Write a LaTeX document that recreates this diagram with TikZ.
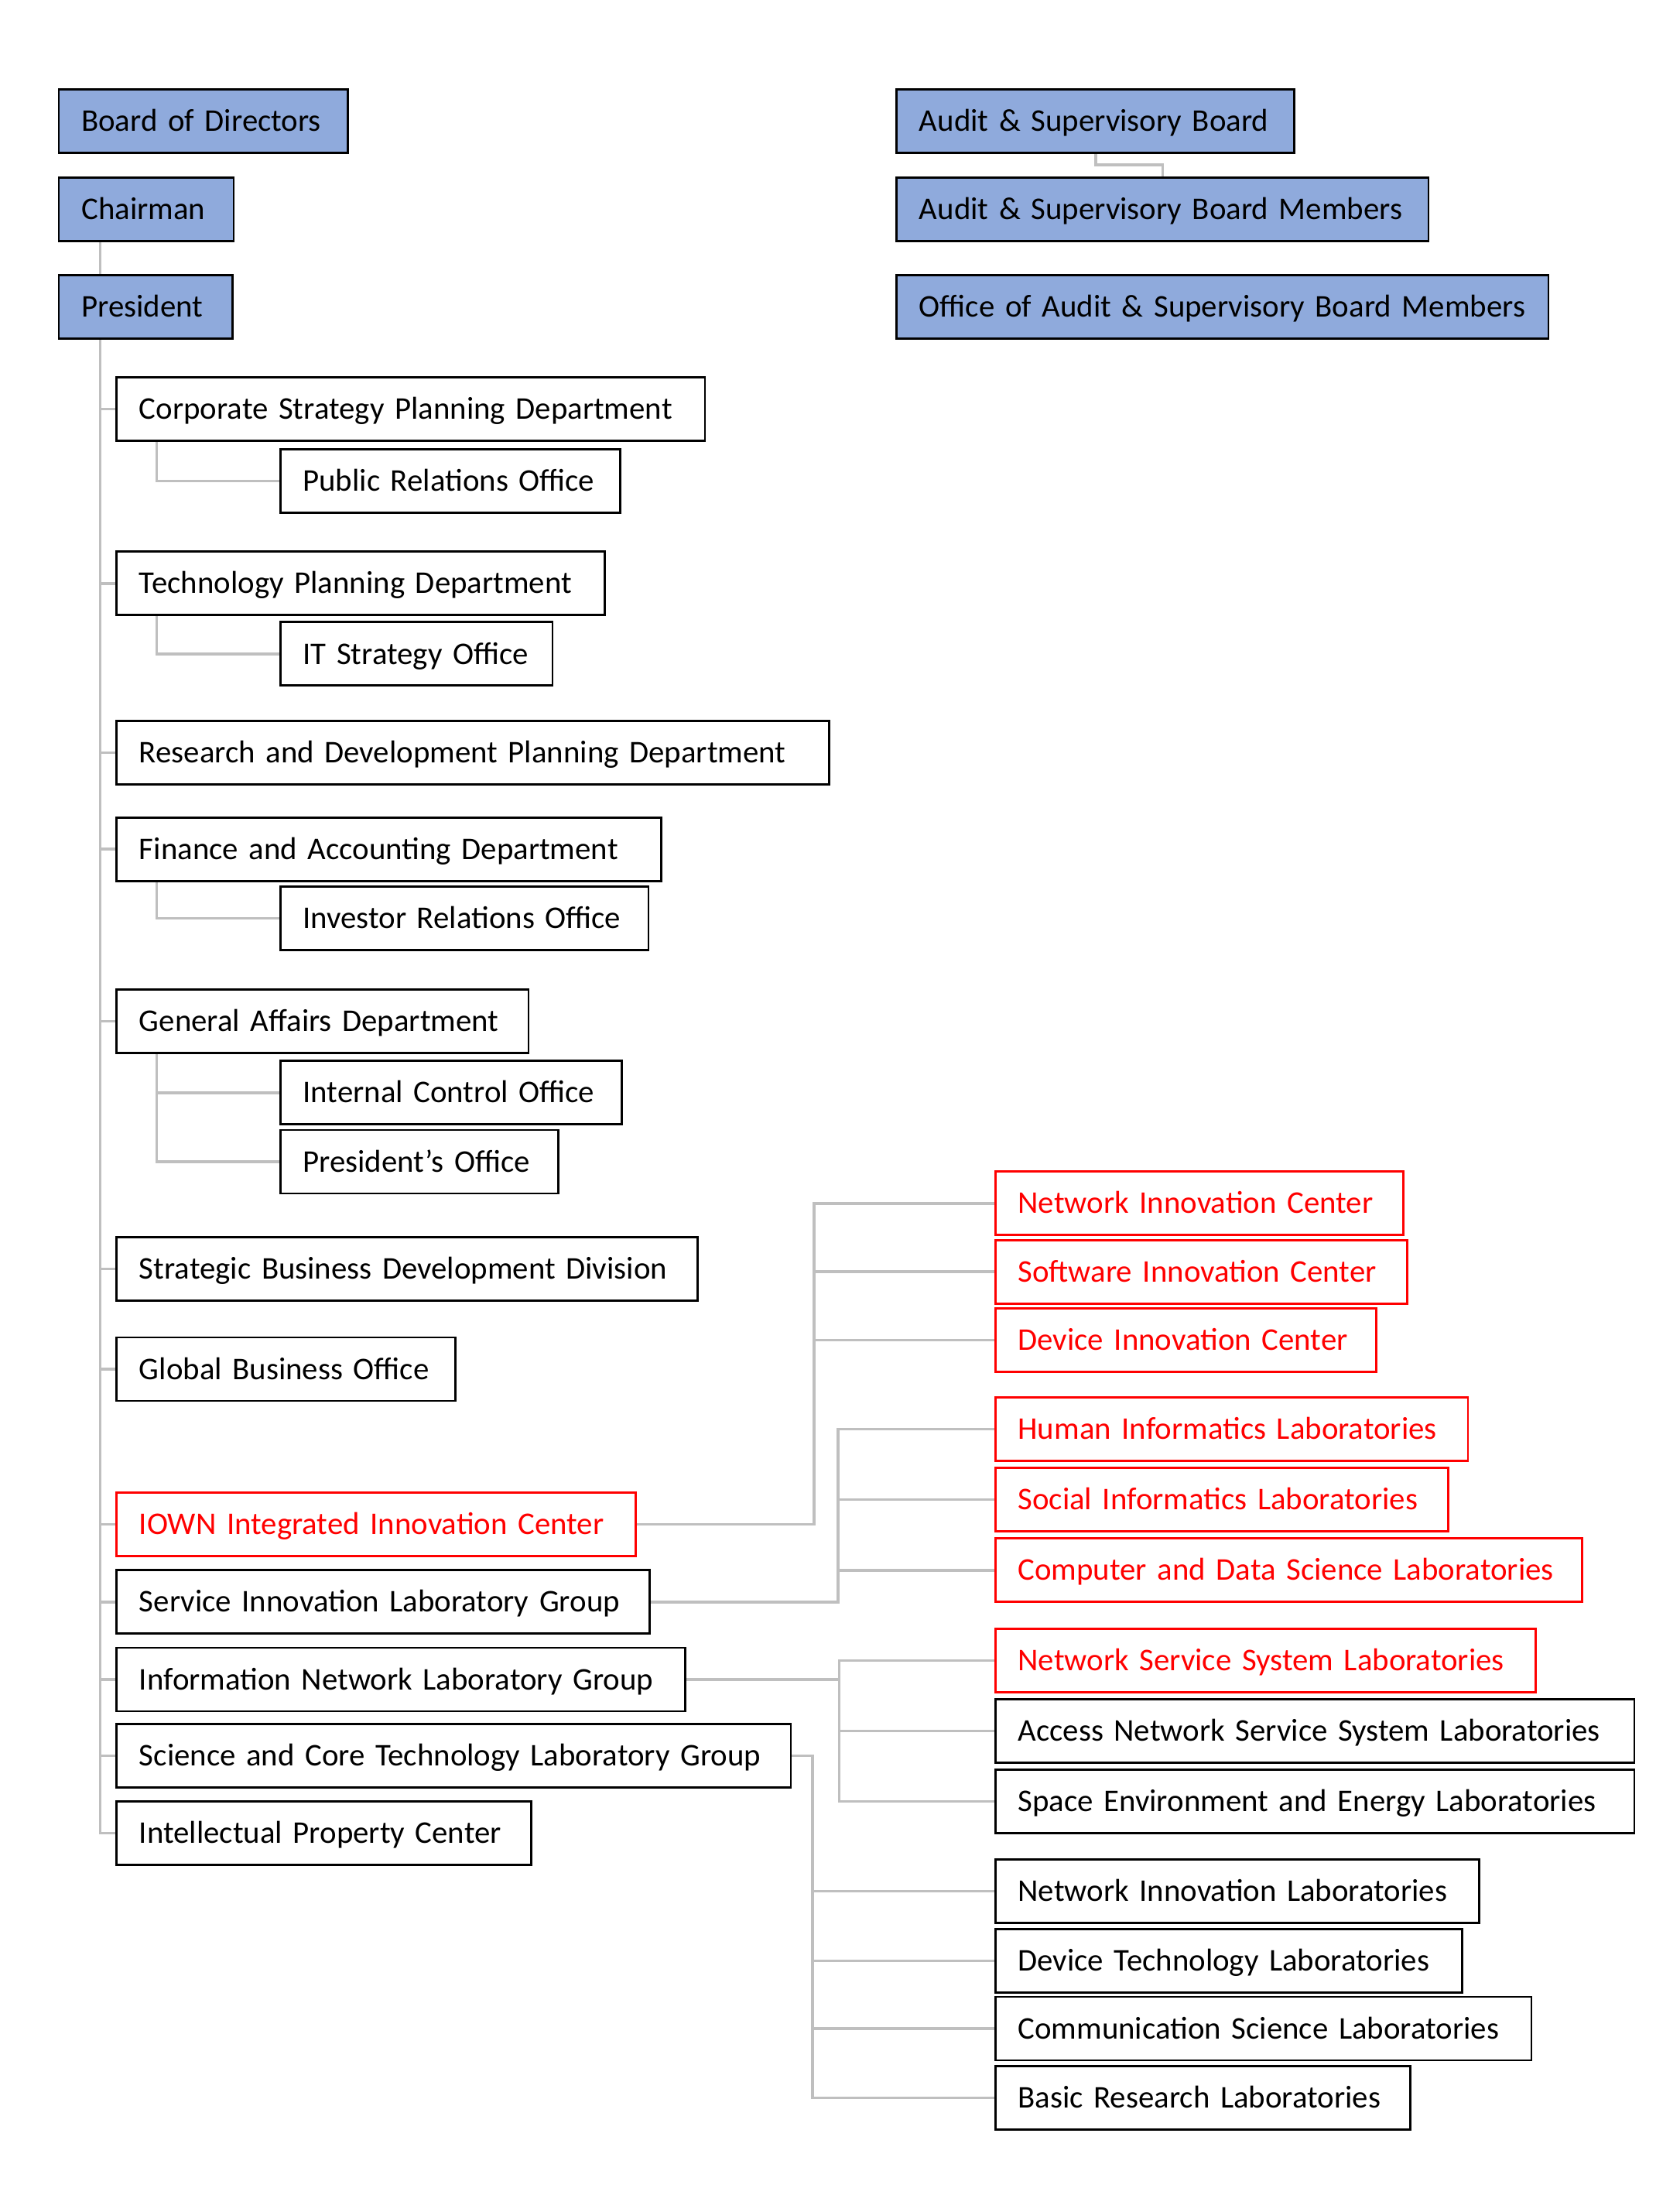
\documentclass[tikz,border=0pt]{standalone}
\usepackage{fontspec}
\setmainfont{Carlito}
\usetikzlibrary{backgrounds}
\definecolor{bfill}{RGB}{143,170,220}
\definecolor{lgray}{RGB}{191,191,191}
\definecolor{rd}{RGB}{255,0,0}
\begin{document}
\begin{tikzpicture}[x=1pt,y=-1pt,
  bx/.style={draw=black, line width=1.5pt, inner xsep=16pt, inner ysep=0pt,
    minimum height=45pt, text height=14.5pt, text depth=0pt, anchor=west,
    align=left, text width=#1pt, font=\fontsize{22.4pt}{27pt}\selectfont,
    execute at begin node={\hbox\bgroup}, execute at end node={\egroup}},
  topbox/.style={fill=bfill},
  hot/.style={draw=rd, text=rd},
  conn/.style={draw=lgray, line width=2pt}]
\useasboundingbox (0,0) rectangle (1191,1568);

% top left
\node[bx=173, topbox] (bod) at (41,86) {Board of Directors};
\node[bx=92, topbox] (chair) at (41,148.5) {Chairman};
\node[bx=91, topbox] (pres) at (41,217.5) {President};
% top right
\node[bx=250, topbox] (asb) at (635,86) {Audit \& Supervisory Board};
\node[bx=345, topbox] (asbm) at (635,148.5) {Audit \& Supervisory Board Members};
\node[bx=430, topbox] (oasbm) at (635,217.5) {Office of Audit \& Supervisory Board Members};

% departments
\node[bx=385] (cspd) at (82,290) {Corporate Strategy Planning Department};
\node[bx=209] (pro) at (198,341) {Public Relations Office};
\node[bx=314] (tpd) at (82,413.5) {Technology Planning Department};
\node[bx=161] (itso) at (198,463.5) {IT Strategy Office};
\node[bx=473] (rdpd) at (82,533.5) {Research and Development Planning Department};
\node[bx=354] (fad) at (82,602) {Finance and Accounting Department};
\node[bx=229] (iro) at (198,651) {Investor Relations Office};
\node[bx=260] (gad) at (82,724) {General Affairs Department};
\node[bx=210] (ico) at (198,774.5) {Internal Control Office};
\node[bx=165] (po) at (198,823.5) {President’s Office};
\node[bx=380] (sbdd) at (82,899.5) {Strategic Business Development Division};
\node[bx=208] (gbo) at (82,970.5) {Global Business Office};
\node[bx=336, hot] (iown) at (82,1080.5) {IOWN Integrated Innovation Center};
\node[bx=346] (silg) at (82,1135.5) {Service Innovation Laboratory Group};
\node[bx=371] (inlg) at (82,1190.5) {Information Network Laboratory Group};
\node[bx=446] (sctlg) at (82,1244.5) {Science and Core Technology Laboratory Group};
\node[bx=262] (ipc) at (82,1299.5) {Intellectual Property Center};

% right column
\node[bx=257, hot] (nic) at (705,853) {Network Innovation Center};
\node[bx=260, hot] (swic) at (705,901.5) {Software Innovation Center};
\node[bx=238, hot] (dic) at (705,950) {Device Innovation Center};
\node[bx=303, hot] (hil) at (705,1013) {Human Informatics Laboratories};
\node[bx=289, hot] (sil) at (705,1063) {Social Informatics Laboratories};
\node[bx=384, hot] (cdsl) at (705,1113) {Computer and Data Science Laboratories};
\node[bx=351, hot] (nssl) at (705,1177) {Network Service System Laboratories};
\node[bx=421] (ansl) at (705,1227) {Access Network Service System Laboratories};
\node[bx=421] (seel) at (705,1277) {Space Environment and Energy Laboratories};
\node[bx=311] (nil) at (705,1340.5) {Network Innovation Laboratories};
\node[bx=299] (dtl) at (705,1390) {Device Technology Laboratories};
\node[bx=348] (csl) at (705,1438) {Communication Science Laboratories};
\node[bx=262] (brl) at (705,1487) {Basic Research Laboratories};

\coordinate (tx) at (71,0);
\coordinate (sx) at (111,0);
\coordinate (ba) at (577,0);
\coordinate (bb) at (594,0);
\coordinate (bc) at (595,0);
\coordinate (bd) at (576,0);
\coordinate (am) at (0,117);

\begin{scope}[on background layer]
\draw[conn] (chair.south -| tx) -- (pres.north -| tx);
\draw[conn] (pres.south -| tx) |- (ipc.west);
\foreach \n in {cspd,tpd,rdpd,fad,gad,sbdd,gbo,iown,silg,inlg,sctlg}
  \draw[conn] (tx |- \n.west) -- (\n.west);
\draw[conn] (cspd.south -| sx) |- (pro.west);
\draw[conn] (tpd.south -| sx) |- (itso.west);
\draw[conn] (fad.south -| sx) |- (iro.west);
\draw[conn] (gad.south -| sx) |- (po.west);
\draw[conn] (sx |- ico.west) -- (ico.west);
\draw[conn] (iown.east) -| (ba |- nic.west) -- (nic.west);
\foreach \n in {swic,dic} \draw[conn] (ba |- \n.west) -- (\n.west);
\draw[conn] (silg.east) -| (bb |- hil.west) -- (hil.west);
\foreach \n in {sil,cdsl} \draw[conn] (bb |- \n.west) -- (\n.west);
\draw[conn] (inlg.east) -- (bc |- inlg.east);
\draw[conn] (nssl.west) -| (bc |- seel.west) -- (seel.west);
\draw[conn] (bc |- ansl.west) -- (ansl.west);
\draw[conn] (sctlg.east) -| (bd |- brl.west) -- (brl.west);
\foreach \n in {nil,dtl,csl} \draw[conn] (bd |- \n.west) -- (\n.west);
\draw[conn] (asb.south) -- (asb.south |- am) -| (asbm.north);
\end{scope}
\end{tikzpicture}
\end{document}
